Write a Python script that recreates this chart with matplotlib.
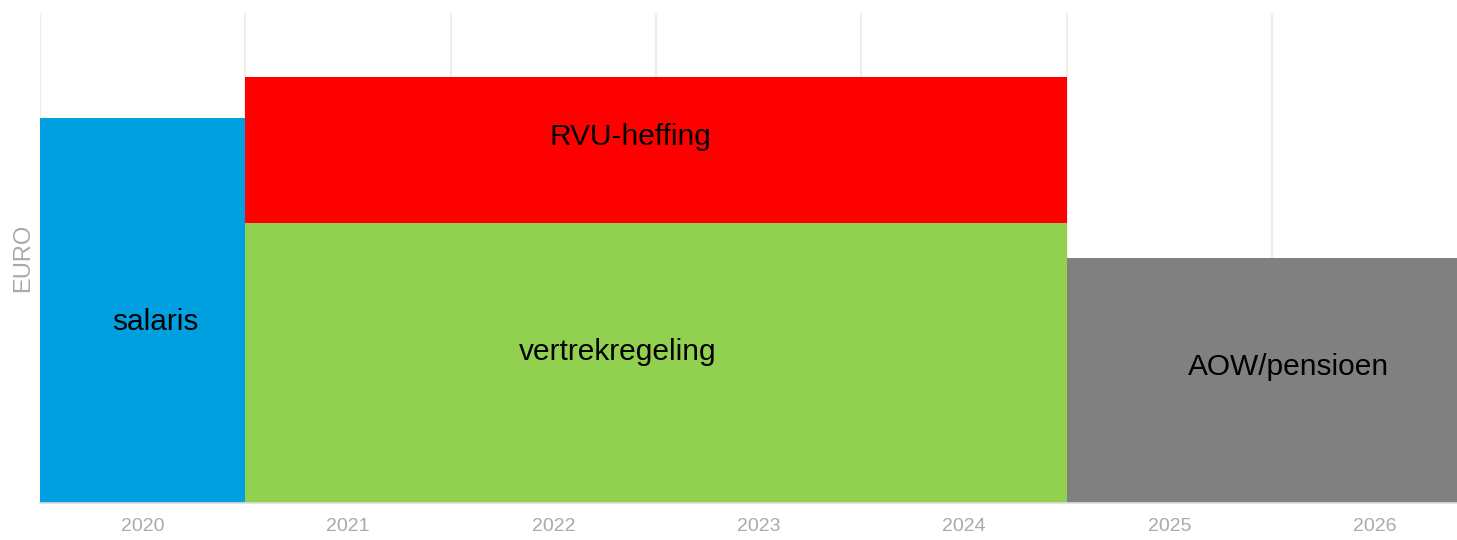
import matplotlib.pyplot as plt

# Data
years = ["2020", "2021", "2022", "2023", "2024", "2025", "2026"]
segments = ["salaris", "vertrekregeling", "RVU-heffing", "AOW/pensioen"]
seg_start = [0, 1, 1, 5]          # index of first year
seg_span = [1, 4, 4, 2.5]         # number of years covered
seg_bottom = [0, 0, 57.1, 0]
seg_height = [78.6, 57.1, 29.8, 50.0]
seg_colors = ["#009fdf", "#92d050", "#ff0000", "#808080"]
# label positions (year index, value)
label_x = [0.06, 2.315, 2.374, 5.58]
label_y = [36.9, 30.8, 74.7, 27.8]

plt.rcParams['font.family'] = ['Liberation Sans', 'DejaVu Sans']

fig = plt.figure(figsize=(14.57, 5.4), dpi=100)
ax = fig.add_axes([40 / 1457, 1 - 503 / 540, 1 - 40 / 1457, 490 / 540])

for i in range(len(segments)):
    ax.bar(seg_start[i] - 0.5, seg_height[i], width=seg_span[i], bottom=seg_bottom[i],
           align='edge', color=seg_colors[i], linewidth=0, zorder=2)
    ax.text(label_x[i], label_y[i], segments[i], ha='center', va='center',
            fontsize=21.5, color='#000000', zorder=3)

# vertical grid lines at year boundaries
for b in range(len(years)):
    ax.axvline(b - 0.5, color='#eeeeee', linewidth=1.6, zorder=1)

ax.set_xlim(-0.5, 6.40)
ax.set_ylim(0, 100)
ax.set_xticks(range(len(years)))
ax.set_xticklabels(years, fontsize=14, color='#aaaaaa')
ax.tick_params(axis='x', length=0, pad=10.5)
ax.set_yticks([])
ax.set_ylabel('EURO', fontsize=17, color='#aaaaaa', labelpad=4)

for s in ['top', 'right', 'left']:
    ax.spines[s].set_visible(False)
ax.spines['bottom'].set_color('#dddddd')
ax.spines['bottom'].set_linewidth(1.2)
ax.spines['bottom'].set_zorder(4)

fig.savefig("out.png", dpi=100)
